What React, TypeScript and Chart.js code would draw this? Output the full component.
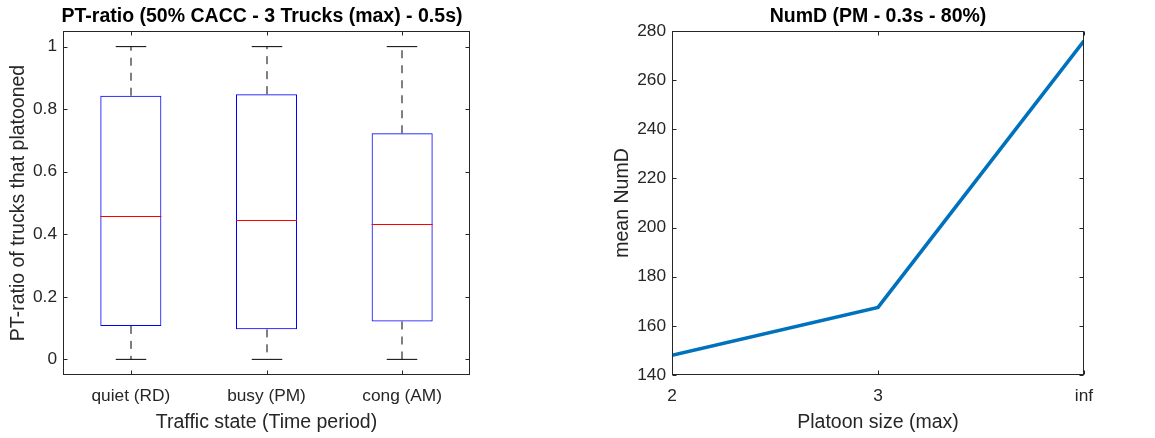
import React, { useEffect, useRef } from 'react';
import { Chart, registerables } from 'chart.js';

Chart.register(...registerables);

const FONT = "'Liberation Sans', Arial, Helvetica, sans-serif";
const INK = '#262626';

// ---- Left subplot: box plot data ----
const TRAFFIC_STATES = ['quiet (RD)', 'busy (PM)', 'cong (AM)'];
const PT_MIN = [0, 0, 0];
const PT_Q1 = [0.107, 0.096, 0.121];
const PT_MEDIAN = [0.46, 0.446, 0.433];
const PT_Q3 = [0.843, 0.848, 0.723];
const PT_MAX = [1, 1, 1];
const PT_TICKS = [0, 0.2, 0.4, 0.6, 0.8, 1];
const PT_TICK_LABELS = ['0', '0.2', '0.4', '0.6', '0.8', '1'];

// ---- Right subplot: line data ----
const PLATOON_SIZES = ['2', '3', 'inf'];
const MEAN_NUMD = [148, 167.5, 276];
const NUMD_TICKS = [140, 160, 180, 200, 220, 240, 260, 280];

const LEFT_TITLE = 'PT-ratio (50% CACC - 3 Trucks (max) - 0.5s)';
const RIGHT_TITLE = 'NumD (PM - 0.3s - 80%)';

const boxPlotPlugin = {
  id: 'boxWhiskers',
  afterDatasetsDraw(chart: any) {
    const { ctx } = chart;
    const y = chart.scales.y;
    const meta = chart.getDatasetMeta(0);
    ctx.save();
    meta.data.forEach((bar: any, i: number) => {
      const cx = Math.round(bar.x);
      const w = bar.width;
      const yMax = y.getPixelForValue(PT_MAX[i]);
      const yMin = y.getPixelForValue(PT_MIN[i]);
      const yQ1 = y.getPixelForValue(PT_Q1[i]);
      const yQ3 = y.getPixelForValue(PT_Q3[i]);
      const yMed = Math.round(y.getPixelForValue(PT_MEDIAN[i])) + 0.5;
      // dashed whiskers
      ctx.strokeStyle = '#000000';
      ctx.lineWidth = 1;
      ctx.setLineDash([8, 7]);
      ctx.beginPath();
      ctx.moveTo(cx, yQ3);
      ctx.lineTo(cx, yMax);
      ctx.moveTo(cx, yQ1);
      ctx.lineTo(cx, yMin);
      ctx.stroke();
      ctx.setLineDash([]);
      // caps
      ctx.beginPath();
      ctx.moveTo(cx - w / 4, yMax);
      ctx.lineTo(cx + w / 4, yMax);
      ctx.moveTo(cx - w / 4, yMin);
      ctx.lineTo(cx + w / 4, yMin);
      ctx.stroke();
      // median
      ctx.strokeStyle = '#ff0000';
      ctx.beginPath();
      ctx.moveTo(bar.x - w / 2, yMed);
      ctx.lineTo(bar.x + w / 2, yMed);
      ctx.stroke();
    });
    ctx.restore();
  },
};

const framePlugin = {
  id: 'matlabFrame',
  afterDatasetsDraw(chart: any, _args: any, opts: any) {
    const { ctx, chartArea: a } = chart;
    const xs = chart.scales.x;
    const ys = chart.scales.y;
    const L = Math.round(a.left) + 0.5;
    const R = Math.round(a.right) - 0.5;
    const T = Math.round(a.top) + 0.5;
    const B = Math.round(a.bottom) - 0.5;
    const len = opts.tickLength ?? 4;
    ctx.save();
    ctx.strokeStyle = INK;
    ctx.lineWidth = 1;
    ctx.strokeRect(L, T, R - L, B - T);
    ctx.beginPath();
    xs.ticks.forEach((_t: any, i: number) => {
      const px = Math.round(xs.getPixelForTick(i)) + 0.5;
      ctx.moveTo(px, B);
      ctx.lineTo(px, B - len);
      ctx.moveTo(px, T);
      ctx.lineTo(px, T + len);
    });
    ys.ticks.forEach((t: any) => {
      const py = Math.round(ys.getPixelForValue(t.value)) + 0.5;
      ctx.moveTo(L, py);
      ctx.lineTo(L + len, py);
      ctx.moveTo(R, py);
      ctx.lineTo(R - len, py);
    });
    ctx.stroke();
    // title centered over the axes
    ctx.font = `bold 19.5px ${FONT}`;
    ctx.fillStyle = '#000000';
    ctx.textAlign = 'center';
    ctx.textBaseline = 'alphabetic';
    ctx.fillText(opts.text, (a.left + a.right) / 2 + (opts.dx ?? 0), opts.baseline ?? 22);
    ctx.restore();
  },
};

const tickFont = { family: FONT, size: 17.3 };
const labelFont = { family: FONT, size: 19.5 };

function leftConfig(): any {
  return {
    type: 'bar',
    data: {
      labels: TRAFFIC_STATES,
      datasets: [
        {
          data: PT_Q1.map((q, i) => [q, PT_Q3[i]]),
          backgroundColor: 'rgba(255,255,255,0)',
          borderColor: '#0000ff',
          borderWidth: 1,
          borderSkipped: false,
          barPercentage: 0.45,
          categoryPercentage: 1,
        },
      ],
    },
    options: {
      responsive: false,
      animation: false,
      devicePixelRatio: 1,
      layout: { padding: { left: 0, right: 108, top: 31, bottom: 0 } },
      plugins: {
        legend: { display: false },
        tooltip: { enabled: false },
        title: { display: false },
        matlabFrame: { text: LEFT_TITLE, dx: -4.5, baseline: 22, tickLength: 4 },
      },
      scales: {
        x: {
          type: 'category',
          offset: true,
          grid: { display: false, drawTicks: false },
          border: { display: false },
          ticks: { font: tickFont, color: INK, padding: 10.4, maxRotation: 0, autoSkip: false },
          title: {
            display: true,
            text: 'Traffic state (Time period)',
            font: labelFont,
            color: INK,
            padding: { top: 0, bottom: 3.5 },
          },
          afterFit: (s: any) => {
            s.height = 63;
          },
        },
        y: {
          type: 'linear',
          min: -0.05,
          max: 1.05,
          afterBuildTicks: (s: any) => {
            s.ticks = PT_TICKS.map((v) => ({ value: v }));
          },
          grid: { display: false, drawTicks: false },
          border: { display: false },
          ticks: {
            font: tickFont,
            color: INK,
            padding: 6,
            callback: (_v: any, i: number) => PT_TICK_LABELS[i],
          },
          title: {
            display: true,
            text: 'PT-ratio of trucks that platooned',
            font: labelFont,
            color: INK,
            padding: { top: 6.5, bottom: 0 },
          },
          afterFit: (s: any) => {
            s.width = 63;
          },
        },
      },
    },
    plugins: [boxPlotPlugin, framePlugin],
  };
}

function rightConfig(): any {
  return {
    type: 'line',
    data: {
      labels: PLATOON_SIZES,
      datasets: [
        {
          data: MEAN_NUMD,
          borderColor: '#0072BD',
          backgroundColor: '#0072BD',
          borderWidth: 3.6,
          pointRadius: 0,
          tension: 0,
          clip: 0,
          borderCapStyle: 'butt',
          borderJoinStyle: 'miter',
        },
      ],
    },
    options: {
      responsive: false,
      animation: false,
      devicePixelRatio: 1,
      layout: { padding: { left: 0, right: 71, top: 31, bottom: 0 } },
      plugins: {
        legend: { display: false },
        tooltip: { enabled: false },
        title: { display: false },
        matlabFrame: { text: RIGHT_TITLE, dx: 0, baseline: 22, tickLength: 4 },
      },
      scales: {
        x: {
          type: 'category',
          offset: false,
          grid: { display: false, drawTicks: false },
          border: { display: false },
          ticks: { font: tickFont, color: INK, padding: 10.4, maxRotation: 0, autoSkip: false },
          title: {
            display: true,
            text: 'Platoon size (max)',
            font: labelFont,
            color: INK,
            padding: { top: 0, bottom: 3.5 },
          },
          afterFit: (s: any) => {
            s.height = 63;
          },
        },
        y: {
          type: 'linear',
          min: 140,
          max: 280,
          afterBuildTicks: (s: any) => {
            s.ticks = NUMD_TICKS.map((v) => ({ value: v }));
          },
          grid: { display: false, drawTicks: false },
          border: { display: false },
          ticks: { font: tickFont, color: INK, padding: 6 },
          title: {
            display: true,
            text: 'mean NumD',
            font: labelFont,
            color: INK,
            padding: { top: 33, bottom: 0 },
          },
          afterFit: (s: any) => {
            s.width = 94;
          },
        },
      },
    },
    plugins: [framePlugin],
  };
}

function ChartCanvas({ make, left, width }: { make: () => any; left: number; width: number }) {
  const ref = useRef<HTMLCanvasElement>(null);
  useEffect(() => {
    const chart = new Chart(ref.current as HTMLCanvasElement, make());
    return () => chart.destroy();
  }, []);
  return (
    <canvas
      ref={ref}
      width={width}
      height={438}
      style={{ position: 'absolute', left, top: 0, width, height: 438 }}
    />
  );
}

export default function App() {
  return (
    <div
      style={{
        position: 'absolute',
        left: 0,
        top: 0,
        width: 1155,
        height: 438,
        background: '#ffffff',
        overflow: 'hidden',
      }}
    >
      <ChartCanvas make={leftConfig} left={0} width={578} />
      <ChartCanvas make={rightConfig} left={578} width={577} />
    </div>
  );
}
